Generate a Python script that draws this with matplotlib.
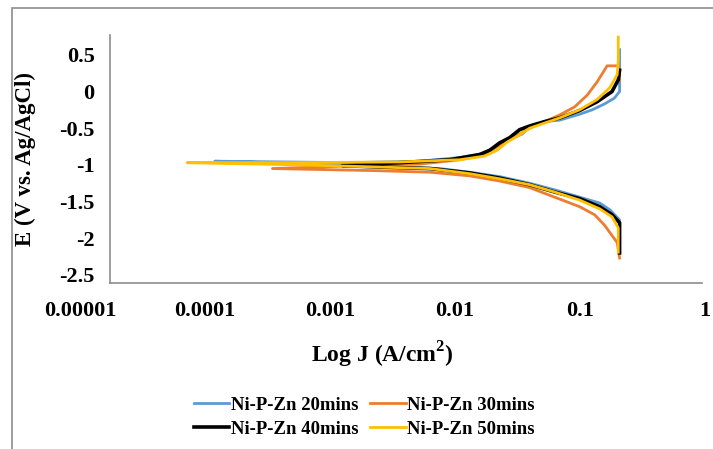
import matplotlib
matplotlib.use('Agg')
import matplotlib.pyplot as plt
from matplotlib.patches import Rectangle
import matplotlib.transforms as mtrans

plt.rcParams['font.family'] = ['Liberation Serif', 'DejaVu Serif']
plt.rcParams['font.weight'] = 'bold'
plt.rcParams['mathtext.fontset'] = 'custom'
plt.rcParams['mathtext.rm'] = 'Liberation Serif:bold'
plt.rcParams['mathtext.bf'] = 'Liberation Serif:bold'

# Tafel data (J in A/cm2, E in V vs Ag/AgCl)
j_20 = [0.209, 0.209, 0.174, 0.145, 0.1, 0.0631, 0.0398, 0.0229, 0.0132, 0.00759, 0.00363, 0.00145,
        0.00012, 0.00145, 0.00525, 0.011, 0.0174, 0.0219, 0.0275, 0.0347, 0.0398, 0.0525, 0.0692,
        0.1, 0.126, 0.158, 0.19, 0.209, 0.209]
e_20 = [-2.20, -1.75, -1.61, -1.52, -1.44, -1.34, -1.25, -1.16, -1.10, -1.05, -1.03, -1.0,
        -0.95, -0.97, -0.95, -0.90, -0.84, -0.74, -0.65, -0.58, -0.48, -0.41, -0.39,
        -0.31, -0.25, -0.17, -0.09, 0.0, 0.57]

j_30 = [0.209, 0.2, 0.158, 0.132, 0.1, 0.0631, 0.0398, 0.0229, 0.0132, 0.00631, 0.00251, 0.000347,
        0.00174, 0.00525, 0.011, 0.0174, 0.0229, 0.0302, 0.0398, 0.0525, 0.0692, 0.0912, 0.115,
        0.138, 0.158, 0.166, 0.204, 0.209]
e_30 = [-2.27, -2.06, -1.82, -1.68, -1.57, -1.44, -1.31, -1.22, -1.15, -1.10, -1.08, -1.05,
        -1.01, -0.99, -0.93, -0.86, -0.73, -0.62, -0.50, -0.41, -0.32, -0.21, -0.05,
        0.13, 0.29, 0.35, 0.35, 0.16]

j_40 = [0.209, 0.209, 0.182, 0.145, 0.1, 0.0631, 0.0398, 0.0229, 0.0132, 0.00631, 0.00251, 0.00126,
        0.00363, 0.00912, 0.0158, 0.0191, 0.0229, 0.0275, 0.0331, 0.0398, 0.0525, 0.0692, 0.1,
        0.138, 0.182, 0.204, 0.209]
e_40 = [-2.20, -1.79, -1.68, -1.57, -1.46, -1.37, -1.27, -1.18, -1.11, -1.05, -1.03, -1.01,
        -0.97, -0.93, -0.86, -0.80, -0.70, -0.63, -0.52, -0.47, -0.41, -0.36, -0.26,
        -0.14, 0.0, 0.16, 0.29]

j_50 = [0.204, 0.204, 0.182, 0.145, 0.1, 0.0631, 0.0398, 0.0229, 0.0132, 0.00631, 0.00251, 0.000575,
        7.2e-5, 0.000575, 0.00363, 0.011, 0.0174, 0.0219, 0.0263, 0.0331, 0.0398, 0.0525, 0.0692,
        0.1, 0.138, 0.174, 0.2, 0.204, 0.204]
e_50 = [-2.19, -1.86, -1.71, -1.60, -1.48, -1.37, -1.27, -1.19, -1.12, -1.05, -1.03, -1.0,
        -0.97, -0.97, -0.96, -0.93, -0.88, -0.80, -0.69, -0.59, -0.50, -0.43, -0.36,
        -0.25, -0.11, 0.05, 0.23, 0.43, 0.74]

labels = ['Ni-P-Zn 20mins', 'Ni-P-Zn 30mins', 'Ni-P-Zn 40mins', 'Ni-P-Zn 50mins']
colors = ['#5B9BD5', '#ED7D31', '#000000', '#FFC000']
x_ticks = [1e-5, 1e-4, 1e-3, 1e-2, 1e-1, 1]
x_tick_labels = ['0.00001', '0.0001', '0.001', '0.01', '0.1', '1']
y_ticks = [0.5, 0, -0.5, -1, -1.5, -2, -2.5]

fig = plt.figure(figsize=(7.13, 4.49), dpi=100)
ax = fig.add_axes([110 / 713, 1 - 283 / 449, 592 / 713, 248 / 449])

series = [(j_20, e_20), (j_30, e_30), (j_40, e_40), (j_50, e_50)]
lines = []
for (j, e), lab, c in zip(series, labels, colors):
    lw = 2.6 if c == '#000000' else 2.0
    ln, = ax.plot(j, e, color=c, lw=lw, label=lab, solid_joinstyle='round')
    lines.append(ln)

ax.set_xscale('log')
ax.set_xlim(10 ** -4.76, 10 ** -0.02)
ax.set_ylim(-2.61, 0.77)
ax.set_xticks([])
ax.minorticks_off()
ax.set_yticks(y_ticks)
ax.set_yticklabels([('%g' % v) for v in y_ticks])
ax.tick_params(axis='y', length=0, pad=11, labelsize=16)
for s in ['top', 'right']:
    ax.spines[s].set_visible(False)
for s in ['left', 'bottom']:
    ax.spines[s].set_color('#8c8c8c')
    ax.spines[s].set_linewidth(1.2)

# x tick labels (the first one sits left of the plot area)
trans = mtrans.blended_transform_factory(ax.transData, ax.transAxes)
for xv, xl in zip(x_ticks, x_tick_labels):
    ax.text(xv, -0.113, xl, transform=trans, ha='center', va='center',
            fontsize=16, fontweight='bold', clip_on=False)

ax.set_ylabel('E (V vs. Ag/AgCl)', fontsize=16.5, fontweight='bold')
ax.yaxis.set_label_coords(-0.125, 0.5)
fig.text(382 / 713, 1 - 355 / 449, r'Log J (A/cm$^{2}$)', ha='center', va='center',
         fontsize=17, fontweight='bold')

# legend filled row by row: 20 | 30 / 40 | 50
order = [0, 2, 1, 3]
fig.legend([lines[i] for i in order], [labels[i] for i in order],
           loc='center', bbox_to_anchor=(0.511, 0.071), ncol=2, frameon=False,
           fontsize=13.5, handlelength=1.9, handletextpad=0.1, columnspacing=0.6,
           labelspacing=0.35, borderpad=0)

# outer chart frame (only top and left edges are visible in the crop)
fig.add_artist(Rectangle((12 / 713, -0.5), 2, 1 - 8 / 449 + 0.5, transform=fig.transFigure,
                         fill=False, edgecolor='#8c8c8c', lw=1.2))

fig.savefig('out.png', dpi=100)
